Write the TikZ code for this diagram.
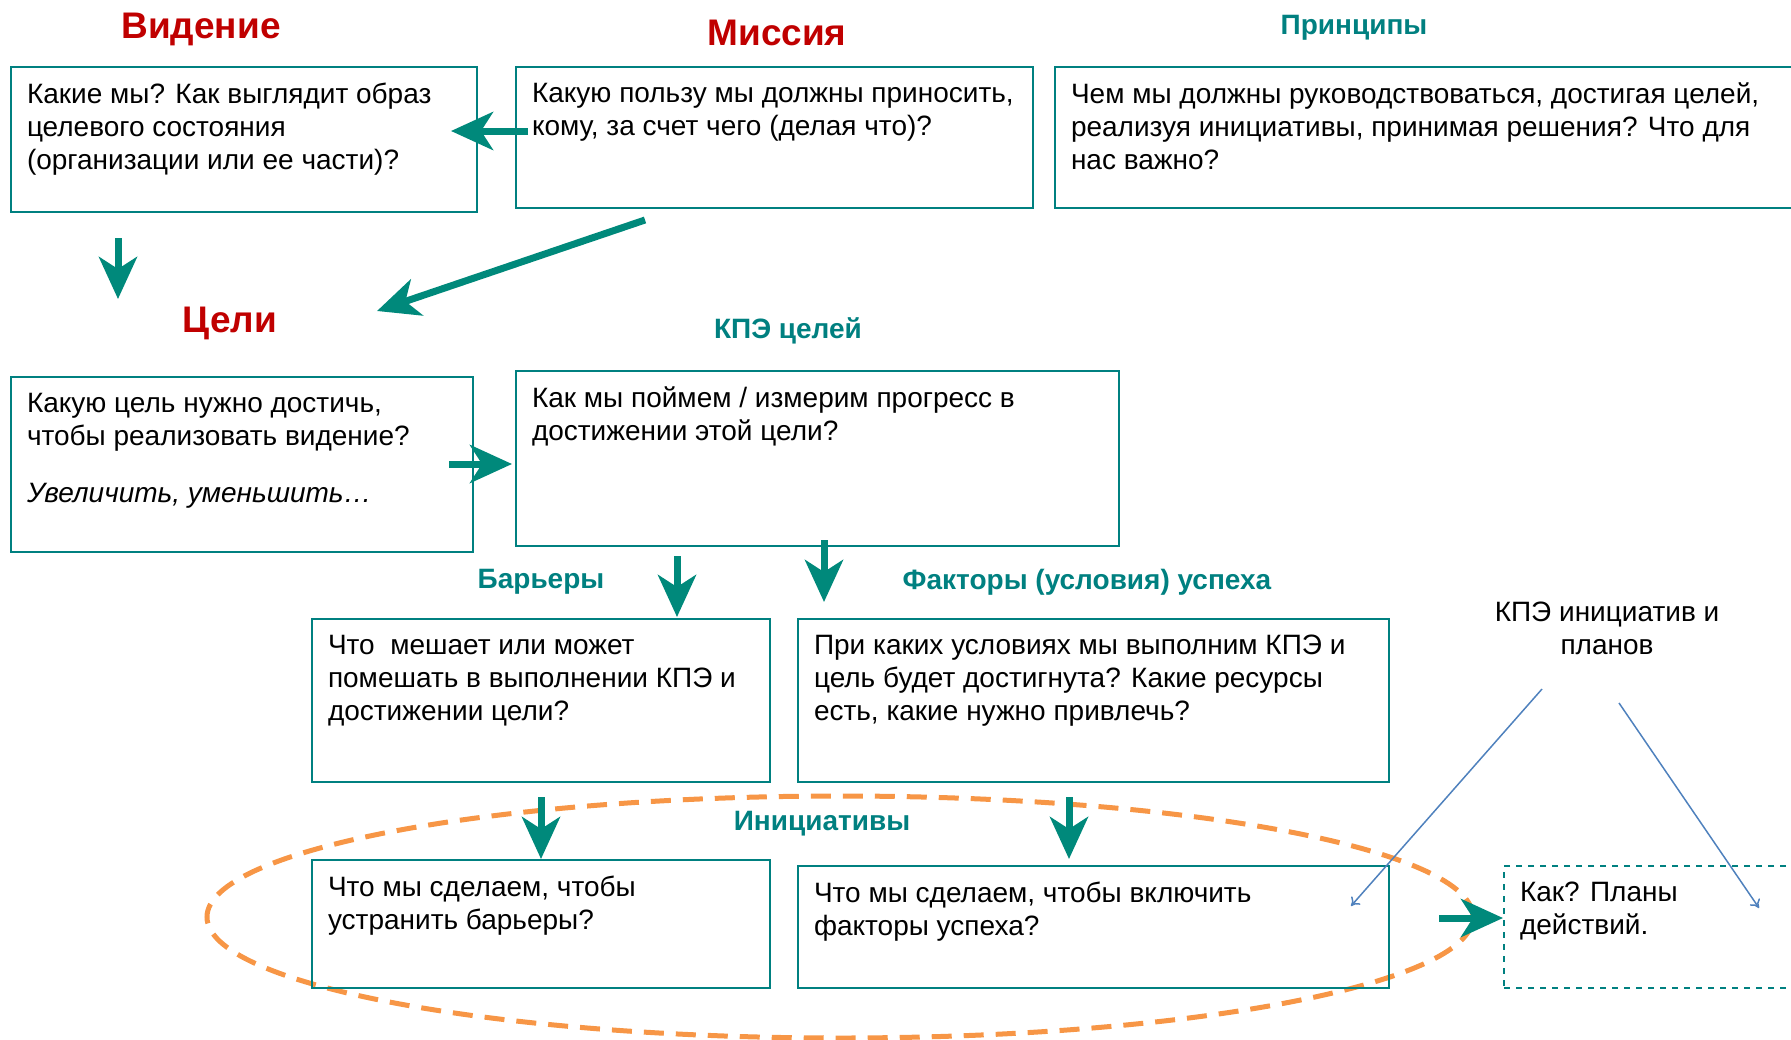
\documentclass[tikz,border=0pt]{standalone}
\usepackage{fontspec}
\setmainfont{Liberation Sans}
\usepackage{tikz}
\usetikzlibrary{arrows.meta}

\definecolor{tealline}{RGB}{0,137,123}
\definecolor{tealtext}{RGB}{0,128,128}
\definecolor{titlered}{RGB}{192,0,0}
\definecolor{orangeacc}{RGB}{247,150,70}
\definecolor{blueline}{RGB}{79,129,189}

\newcommand{\qtext}[3]{\parbox[t][#2][t]{#1}{\raggedright #3}}

\tikzset{
  qbox/.style={draw=tealtext, line width=1pt, anchor=north west,
    inner xsep=8pt, inner ysep=8pt, font=\fontsize{14}{16.5}\selectfont},
  redtitle/.style={text=titlered, font=\fontsize{18.5}{22}\selectfont\bfseries},
  tealtitle/.style={text=tealtext, font=\fontsize{14}{17}\selectfont\bfseries},
  bigarrow/.style={draw=tealline, line width=3.5pt,
    -{Stealth[length=21pt,width=19pt,inset=6pt]}},
  thinarrow/.style={draw=blueline, line width=0.75pt, -{To[length=4pt,width=6pt]}},
}

\begin{document}
\begin{tikzpicture}[x=0.5pt,y=-0.5pt]
  \useasboundingbox (0,0) rectangle (1791,1039);

  % titles
  \node[redtitle] (tvis) at (201,29) {Видение};
  \node[redtitle] (tmis) at (777,33) {Миссия};
  \node[tealtitle] (tpri) at (1354,28) {Принципы};
  \node[redtitle] (tgoal) at (230,323) {Цели};
  \node[tealtitle] (tkpi) at (788,331) {КПЭ целей};
  \node[tealtitle] (tbar) at (541,582) {Барьеры};
  \node[tealtitle] (tfac) at (1087,582) {Факторы (условия) успеха};
  \node[tealtitle] (tini) at (822,824) {Инициативы};
  \node[align=center, font=\fontsize{14}{16.5}\selectfont] (tplan) at (1607,628)
    {КПЭ инициатив и\\планов};

  % initiatives ring
  \draw[orangeacc, line width=2.5pt, dash pattern=on 10pt off 6pt]
    (840,917) ellipse [x radius=316.5pt, y radius=60.5pt];

  % boxes
  \node[qbox] (vis) at (10,66) {\qtext{217pt}{56.5pt}{Какие мы? Как выглядит образ\\
    целевого состояния\\ (организации или ее части)?}};
  \node[qbox] (mis) at (515,66) {\qtext{242.5pt}{54.5pt}{Какую пользу мы должны приносить,\\
    кому, за счет чего (делая что)?}};
  \node[qbox] (pri) at (1054,66) {\qtext{357pt}{54.5pt}{Чем мы должны руководствоваться, достигая целей,\\
    реализуя инициативы, принимая решения? Что для\\ нас важно?}};
  \node[qbox] (goal) at (10,376) {\qtext{215pt}{71.5pt}{Какую цель нужно достичь,\\
    чтобы реализовать видение?\\[12pt] \textit{Увеличить, уменьшить…}}};
  \node[qbox] (kpi) at (515,370) {\qtext{285.5pt}{71.5pt}{Как мы поймем / измерим прогресс в\\
    достижении этой цели?}};
  \node[qbox] (bar) at (311,618) {\qtext{213pt}{65.5pt}{Что \ мешает или может\\
    помешать в выполнении КПЭ и\\ достижении цели?}};
  \node[qbox] (fac) at (797,618) {\qtext{279.5pt}{65.5pt}{При каких условиях мы выполним КПЭ и\\
    цель будет достигнута? Какие ресурсы\\ есть, какие нужно привлечь?}};
  \node[qbox] (ini1) at (311,859) {\qtext{213pt}{48pt}{Что мы сделаем, чтобы\\ устранить барьеры?}};
  \node[qbox] (ini2) at (797,865) {\qtext{279.5pt}{45pt}{Что мы сделаем, чтобы включить\\ факторы успеха?}};
  \node[qbox, dashed] (plan) at (1503,865) {\qtext{150pt}{45pt}{Как? Планы\\ действий.}};

  % arrow ends
  \coordinate (misout) at (528,131);
  \coordinate (visin) at (451,131);
  \coordinate (visout) at (118,238);
  \coordinate (goalin) at (118,299);
  \coordinate (misout2) at (645,220);
  \coordinate (goalin2) at (377,311);
  \coordinate (goalout) at (449,464);
  \coordinate (kpiin) at (512,464);
  \coordinate (kpiout1) at (677,556);
  \coordinate (barin) at (677,617);
  \coordinate (kpiout2) at (824,540);
  \coordinate (facin) at (824,602);
  \coordinate (barout) at (541,797);
  \coordinate (ini1in) at (541,859);
  \coordinate (facout) at (1069,797);
  \coordinate (ini2in) at (1069,859);
  \coordinate (ini2out) at (1439,918);
  \coordinate (planin) at (1503,918);
  \coordinate (tplanl) at (1542,689);
  \coordinate (ini2kpi) at (1351,906);
  \coordinate (tplanr) at (1619,703);
  \coordinate (plankpi) at (1759,908);

  % connectors
  \draw[bigarrow] (misout) -- (visin);
  \draw[bigarrow] (visout) -- (goalin);
  \draw[bigarrow] (misout2) -- (goalin2);
  \draw[bigarrow] (goalout) -- (kpiin);
  \draw[bigarrow] (kpiout1) -- (barin);
  \draw[bigarrow] (kpiout2) -- (facin);
  \draw[bigarrow] (barout) -- (ini1in);
  \draw[bigarrow] (facout) -- (ini2in);
  \draw[bigarrow] (ini2out) -- (planin);
  \draw[thinarrow] (tplanl) -- (ini2kpi);
  \draw[thinarrow] (tplanr) -- (plankpi);
\end{tikzpicture}
\end{document}
